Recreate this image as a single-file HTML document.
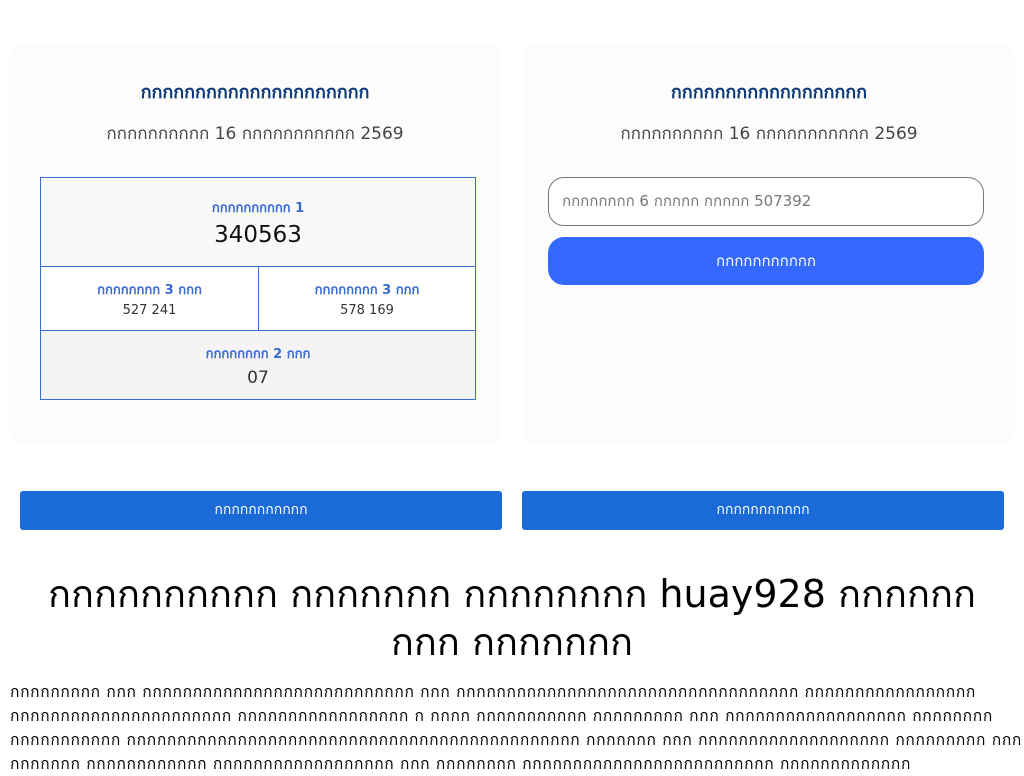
<!DOCTYPE html>
<html><head><meta charset="utf-8">
<style>
body{margin:0;width:1024px;height:768px;overflow:hidden;background:#fff;font-family:"DejaVu Sans","Liberation Sans",sans-serif;position:relative}
.card{position:absolute;top:44px;width:494px;height:400px;background:#fcfcfc;border-radius:16px}
.t{position:absolute;left:0;right:0;text-align:center}
.h{top:33px;font-size:18px;font-weight:bold;color:#0d3a7a}
.s{top:76px;font-size:17px;color:#444}
table{position:absolute;left:32px;top:133px;width:436px;border-collapse:collapse}
td{border:1px solid #3a6bd0;text-align:center;padding:0}
.lb{color:#3a6bd0;font-weight:bold;font-size:13px}
.btn{position:absolute;top:491px;height:39px;width:482px;background:#1a6ad8;border-radius:3px;color:#fff;font-size:14px;text-align:center;line-height:39px}
h1{position:absolute;top:570px;left:0;right:0;margin:0;text-align:center;font-size:38px;font-weight:normal;line-height:48px}
p{position:absolute;top:680px;left:10px;margin:0;font-size:15.5px;line-height:24px;white-space:nowrap;letter-spacing:0.7px}
</style></head><body>
<div class="card" style="left:8px">
<div class="t h">กกกกกกกกกกกกกกกกกกกกก</div>
<div class="t s">กกกกกกกกกก 16 กกกกกกกกกกก 2569</div>
<table>
<tr><td colspan="2" style="height:88px;background:#f9f9f9"><div class="lb">กกกกกกกกกก 1</div><div style="font-size:23px;color:#111;margin-top:4px">340563</div></td></tr>
<tr><td style="height:63px;width:217px;background:#fff"><div class="lb">กกกกกกกก 3 กกก</div><div style="font-size:13px;color:#333;margin-top:3px">527 241</div></td><td style="background:#fff"><div class="lb">กกกกกกกก 3 กกก</div><div style="font-size:13px;color:#333;margin-top:3px">578 169</div></td></tr>
<tr><td colspan="2" style="height:68px;background:#f4f4f4"><div class="lb">กกกกกกกก 2 กกก</div><div style="font-size:17px;color:#333;margin-top:4px">07</div></td></tr>
</table>
</div>
<div class="card" style="left:522px">
<div class="t h">กกกกกกกกกกกกกกกกกก</div>
<div class="t s">กกกกกกกกกก 16 กกกกกกกกกกก 2569</div>
<div style="position:absolute;left:26px;top:133px;border:1px solid #777;border-radius:16px;background:#fff;font-size:15px;color:#777;line-height:47px;padding-left:13px;box-sizing:border-box;width:436px;height:49px">กกกกกกกก 6 กกกกก กกกกก 507392</div>
<div style="position:absolute;left:26px;top:193px;width:436px;height:48px;border-radius:16px;background:#3468ff;color:#fff;font-size:15px;text-align:center;line-height:48px">กกกกกกกกกกก</div>
</div>
<div class="btn" style="left:20px">กกกกกกกกกกก</div>
<div class="btn" style="left:522px">กกกกกกกกกกก</div>
<h1>กกกกกกกกกก กกกกกกก กกกกกกกก huay928 กกกกกก<br>กกก กกกกกกก</h1>
<p>กกกกกกกกก กกก กกกกกกกกกกกกกกกกกกกกกกกกกกก กกก กกกกกกกกกกกกกกกกกกกกกกกกกกกกกกกกกก กกกกกกกกกกกกกกกกก<br>กกกกกกกกกกกกกกกกกกกกกก กกกกกกกกกกกกกกกกก ก กกกก กกกกกกกกกกก กกกกกกกกก กกก กกกกกกกกกกกกกกกกกก กกกกกกกก<br>กกกกกกกกกกก กกกกกกกกกกกกกกกกกกกกกกกกกกกกกกกกกกกกกกกกกกกกก กกกกกกก กกก กกกกกกกกกกกกกกกกกกก กกกกกกกกก กกก<br>กกกกกกก กกกกกกกกกกกก กกกกกกกกกกกกกกกกกก กกก กกกกกกกก กกกกกกกกกกกกกกกกกกกกกกกกก กกกกกกกกกกกกก</p>
</body></html>
